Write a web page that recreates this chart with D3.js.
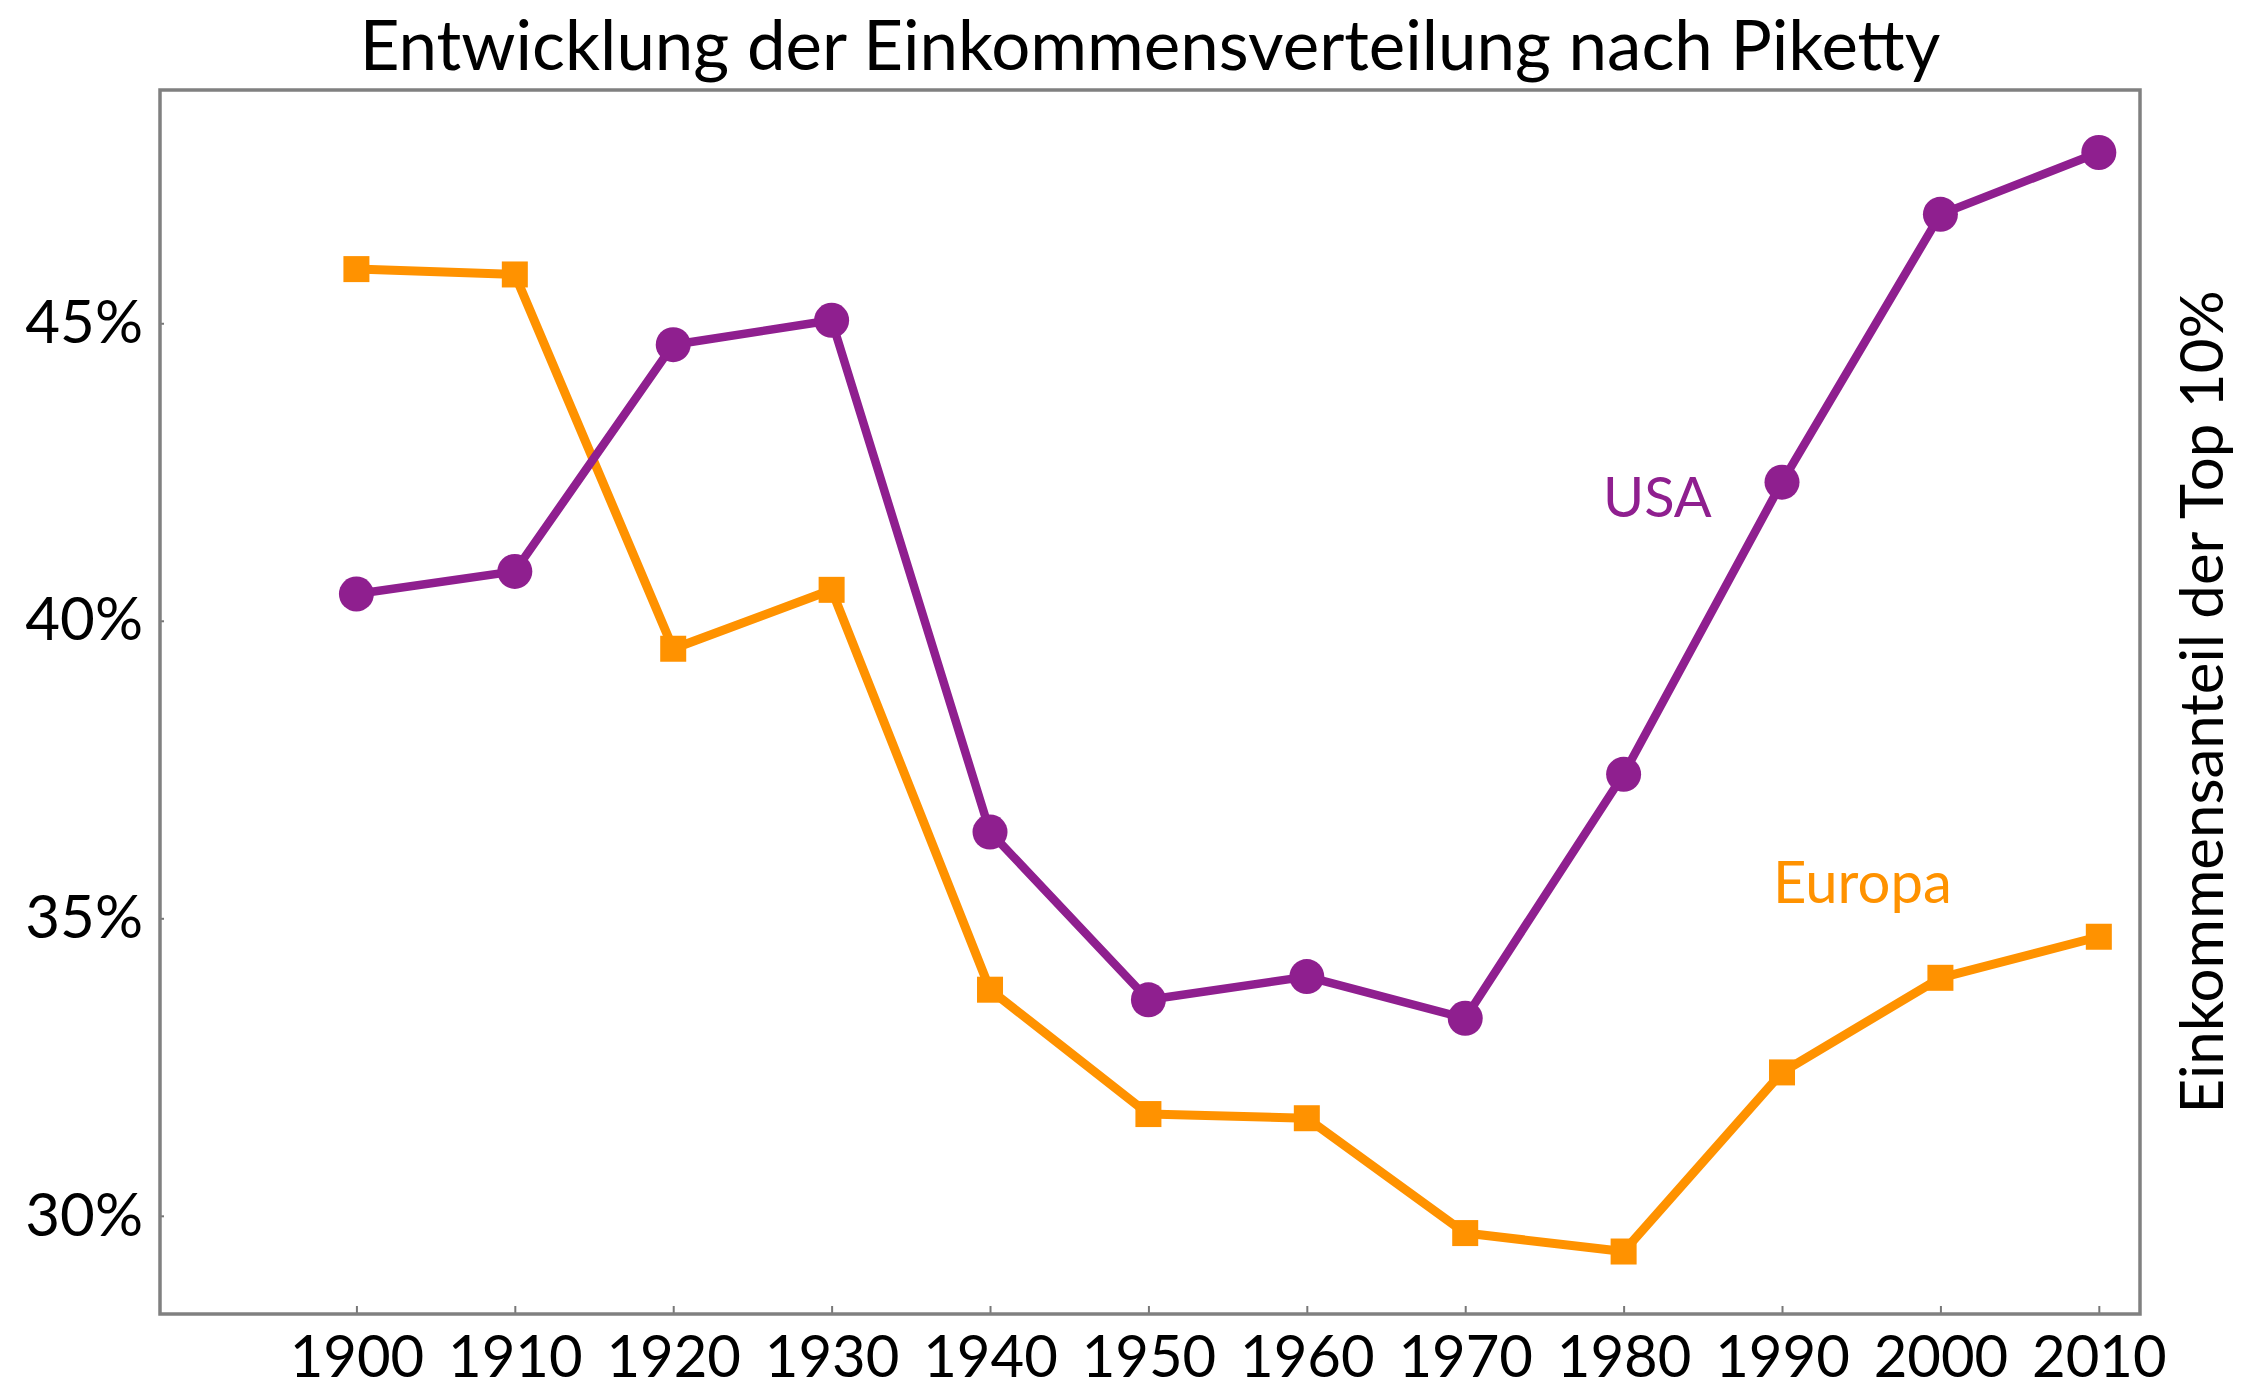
<!DOCTYPE html>
<html>
<head>
<meta charset="utf-8">
<script src="https://cdn.jsdelivr.net/npm/d3@7"></script>
<style>
  body { margin: 0; background: #fff; }
  svg { display: block; }
  text { font-family: Lato, "Open Sans", sans-serif; }
</style>
</head>
<body>
<div id="chart"></div>
<script>
// data (share of income of top 10%, in %)
const years = [1900, 1910, 1920, 1930, 1940, 1950, 1960, 1970, 1980, 1990, 2000, 2010];
const usaShare = [40.45, 40.83, 44.64, 45.05, 36.45, 33.63, 34.02, 33.32, 37.42, 42.33, 46.83, 47.87];
const europaShare = [45.91, 45.82, 39.53, 40.52, 33.8, 31.71, 31.64, 29.71, 29.4, 32.41, 34.0, 34.69];
const yTicks = [30, 35, 40, 45];

const seriesNames = ["USA", "Europa"];
const purple = "#8f1f8f";
const orange = "#ff9200";

function drawChart(container) {
  const width = 2249, height = 1388;
  const margin = {top: 90, right: 109, bottom: 74, left: 160};

  const svg = d3.select(container).append("svg")
      .attr("width", width)
      .attr("height", height);

  const x = d3.scaleLinear()
    .domain([1887.6, 2012.6])
    .range([margin.left, width - margin.right]);

  const y = d3.scaleLinear()
    .domain([28.35, 48.92])
    .range([height - margin.bottom, margin.top]);

  // titel
  svg.append("text")
      .attr("x", (margin.left + width - margin.right) / 2)
      .attr("y", 70)
      .attr("text-anchor", "middle")
      .attr("font-size", 69)
      .attr("fill", "#000")
      .text("Entwicklung der Einkommensverteilung nach Piketty");

  const xAxis = g => g
      .attr("transform", `translate(0,${height - margin.bottom})`)
      .call(d3.axisBottom(x).tickValues(years).tickFormat(d3.format("d")).tickSize(-8).tickPadding(22))
      .call(g => g.select(".domain").remove())
      .call(g => g.selectAll(".tick line").attr("stroke", "#777").attr("stroke-width", 2))
      .call(g => g.selectAll(".tick text").attr("font-size", 58).attr("fill", "#000")
          .style("font-family", "Lato, sans-serif"));

  const yAxis = g => g
      .attr("transform", `translate(${margin.left},0)`)
      .call(d3.axisLeft(y).tickValues(yTicks).tickFormat(d => d + "%").tickSize(-4).tickPadding(17))
      .call(g => g.select(".domain").remove())
      .call(g => g.selectAll(".tick line").attr("stroke", "#777").attr("stroke-width", 2))
      .call(g => g.selectAll(".tick text").attr("font-size", 60).attr("fill", "#000")
          .style("font-family", "Lato, sans-serif"));

  svg.append("g").call(xAxis);
  svg.append("g").call(yAxis);

  // rahmen
  svg.append("rect")
      .attr("x", margin.left)
      .attr("y", margin.top)
      .attr("width", width - margin.left - margin.right)
      .attr("height", height - margin.top - margin.bottom)
      .attr("fill", "none")
      .attr("stroke", "#808080")
      .attr("stroke-width", 3.5);

  const line = d3.line()
    .x(d => x(d.year))
    .y(d => y(d.value));

  const usa = years.map((yr, i) => ({year: yr, value: usaShare[i]}));
  const europa = years.map((yr, i) => ({year: yr, value: europaShare[i]}));

  svg.append("path")
      .datum(europa)
      .attr("fill", "none")
      .attr("stroke", orange)
      .attr("stroke-width", 9)
      .attr("stroke-linejoin", "round")
      .attr("d", line);

  svg.append("g")
      .attr("fill", orange)
    .selectAll("rect")
    .data(europa)
    .join("rect")
      .attr("x", d => x(d.year) - 13)
      .attr("y", d => y(d.value) - 13)
      .attr("width", 26)
      .attr("height", 26);

  svg.append("path")
      .datum(usa)
      .attr("fill", "none")
      .attr("stroke", purple)
      .attr("stroke-width", 8.5)
      .attr("stroke-linejoin", "round")
      .attr("d", line);

  svg.append("g")
      .attr("fill", purple)
    .selectAll("circle")
    .data(usa)
    .join("circle")
      .attr("cx", d => x(d.year))
      .attr("cy", d => y(d.value))
      .attr("r", 17.5);

  // beschriftung der reihen
  svg.append("text")
      .attr("x", 1603)
      .attr("y", 517)
      .attr("font-size", 56)
      .attr("fill", purple)
      .text(seriesNames[0]);

  svg.append("text")
      .attr("x", 1773)
      .attr("y", 903)
      .attr("font-size", 58)
      .attr("fill", orange)
      .text(seriesNames[1]);

  // achsentitel rechts
  svg.append("text")
      .attr("transform", "translate(2223,702) rotate(-90)")
      .attr("text-anchor", "middle")
      .attr("font-size", 60)
      .attr("fill", "#000")
      .text("Einkommensanteil der Top 10%");
}

drawChart("#chart");
</script>
</body>
</html>
